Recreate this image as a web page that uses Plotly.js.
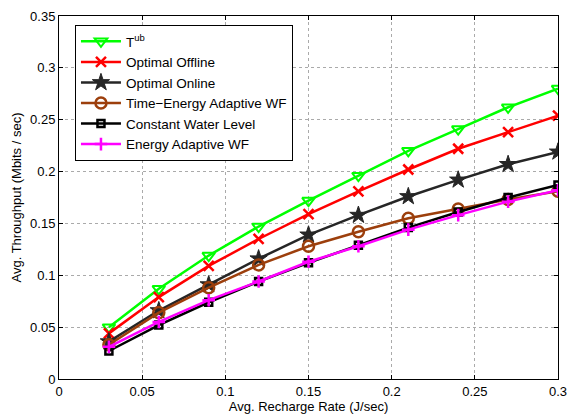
<!DOCTYPE html>
<html><head><meta charset="utf-8">
<script src="https://cdn.plot.ly/plotly-3.0.1.min.js"></script>
<style>html,body{margin:0;padding:0;background:#fff}#chart{width:567px;height:420px}</style>
</head><body><div id="chart"></div>
<script>
const rates = [0.03,0.06,0.09,0.12,0.15,0.18,0.21,0.24,0.27,0.30];
const tUB = [0.050,0.087,0.119,0.147,0.172,0.196,0.220,0.241,0.262,0.280];
const optOffline = [0.044,0.079,0.109,0.135,0.159,0.181,0.202,0.222,0.238,0.254];
const optOnline = [0.036,0.066,0.091,0.116,0.139,0.158,0.176,0.192,0.207,0.219];
const timeEnergyWF = [0.033,0.064,0.088,0.110,0.128,0.142,0.155,0.164,0.173,0.181];
const constWater = [0.027,0.052,0.074,0.094,0.112,0.129,0.146,0.161,0.175,0.187];
const energyWF = [0.031,0.055,0.076,0.094,0.113,0.128,0.144,0.158,0.171,0.182];
const names = ['T<sup>ub</sup>','Optimal Offline','Optimal Online','Time\u2212Energy Adaptive WF','Constant Water Level','Energy Adaptive WF'];

function tr(y,name,color,symbol,size,mlw,fill){
  return {x:rates,y:y,name:name,type:'scatter',mode:'lines+markers',
    line:{color:color,width:2.5},
    marker:{symbol:symbol,size:size,color:fill||color,line:{color:color,width:mlw}}};
}
const data = [
  tr(tUB,names[0],'#00ff00','triangle-down-open',11,2),
  tr(optOffline,names[1],'#ff0000','x-thin-open',10,2.5),
  tr(optOnline,names[2],'#262626','star',13,1),
  tr(timeEnergyWF,names[3],'#9c3f0c','circle-open',11,2.5),
  tr(constWater,names[4],'#000000','square-open',7,2.5),
  tr(energyWF,names[5],'#ff00ff','cross-thin-open',9,2.5)
];
const FONT = 'Liberation Sans, Arial, Helvetica, sans-serif';
const axisCommon = {showline:true,linecolor:'#000',linewidth:1,mirror:'ticks',ticks:'inside',ticklen:4,tickcolor:'#000',
  showgrid:true,gridcolor:'#aaa',griddash:'dot',gridwidth:1,zeroline:false,ticklabeloverflow:'allow',
  tickfont:{family:FONT,size:13,color:'#000'}};
const layout = {
  width:567,height:420,margin:{l:59,r:9,t:16,b:41},
  paper_bgcolor:'#fff',plot_bgcolor:'#fff',
  font:{family:FONT,size:13,color:'#000'},
  xaxis:Object.assign({},axisCommon,{range:[0,0.3],dtick:0.05,tick0:0,
    title:{text:'Avg. Recharge Rate (J/sec)',font:{family:FONT,size:13},standoff:1}}),
  yaxis:Object.assign({},axisCommon,{range:[0,0.35],dtick:0.05,tick0:0,
    title:{text:'Avg. Throughput (Mbits / sec)',font:{family:FONT,size:13},standoff:5}}),
  showlegend:true,
  legend:{x:0.032,y:0.975,xanchor:'left',yanchor:'top',bgcolor:'#fff',bordercolor:'#000',borderwidth:1,
    font:{family:FONT,size:13.5},tracegroupgap:0,itemwidth:40}
};
Plotly.newPlot('chart',data,layout,{displayModeBar:false,staticPlot:true});
</script></body></html>
